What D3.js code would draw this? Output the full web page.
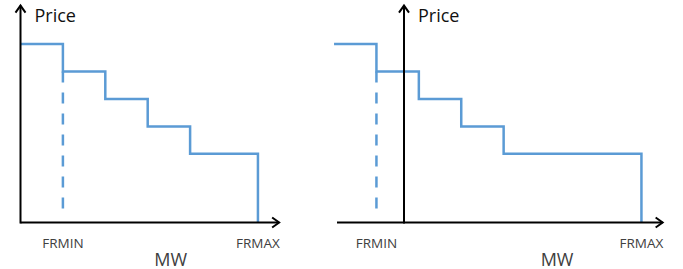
<!DOCTYPE html>
<html>
<head>
<meta charset="utf-8">
<script src="https://cdn.jsdelivr.net/npm/d3@7"></script>
<style>
  body { margin: 0; background: #fff; }
  text { font-family: "Open Sans", "Liberation Sans", sans-serif; }
  .step { fill: none; stroke: #5b9bd5; stroke-width: 2.5; }
  .frmin { stroke: #5b9bd5; stroke-width: 2.5; stroke-dasharray: 11 10; }
  .axis { stroke: #000; stroke-width: 2; fill: none; }
</style>
</head>
<body>
<svg id="chart" width="683" height="269"></svg>
<script>
// offer curve: MW breakpoints and price of each block
var leftMW   = [0, 10, 20, 30, 40, 56];
var rightMW  = [-16.5, -6.5, 3.5, 13.5, 23.5, 56];
var prices   = [65, 55, 45, 35, 25];
var leftFrmin = 10, rightFrmin = -6.5, frmax = 56;
var xLabels = ["FRMIN", "FRMAX"];

var svg = d3.select("#chart");

var y = d3.scaleLinear().domain([0, 65]).range([222.5, 44]);
var yTop = 79;       // top of price arrow
var xEnd = 61;       // end of MW arrow

function panel(mw, frmin, x0, xAxisStart, mwLabelX) {
  var x = d3.scaleLinear().domain([0, 1]).range([x0, x0 + 4.24]);
  var g = svg.append("g");

  // step line
  var pts = [];
  prices.forEach(function(p, i) {
    pts.push([mw[i], p]);
    pts.push([mw[i + 1], p]);
  });
  pts.push([mw[mw.length - 1], 0]);
  var line = d3.line()
    .x(function(d) { return x(d[0]); })
    .y(function(d) { return y(d[1]); });
  g.append("path").attr("class", "step").attr("d", line(pts));

  // dashed FRMIN drop line
  g.append("line").attr("class", "frmin")
    .attr("x1", x(frmin)).attr("x2", x(frmin))
    .attr("y1", y(prices[1])).attr("y2", y(2.8));

  // axes
  g.append("line").attr("class", "axis")
    .attr("x1", x(0)).attr("x2", x(0))
    .attr("y1", y(0) + 1).attr("y2", y(yTop));
  g.append("line").attr("class", "axis")
    .attr("x1", x(xAxisStart)).attr("x2", x(xEnd))
    .attr("y1", y(0)).attr("y2", y(0));
  // arrow heads
  g.append("path").attr("class", "axis")
    .attr("d", "M" + (x(0) - 5) + "," + (y(yTop) + 7) + "L" + x(0) + "," + y(yTop) + "L" + (x(0) + 5) + "," + (y(yTop) + 7));
  g.append("path").attr("class", "axis")
    .attr("d", "M" + (x(xEnd) - 7) + "," + (y(0) - 5) + "L" + x(xEnd) + "," + y(0) + "L" + (x(xEnd) - 7) + "," + (y(0) + 5));

  // labels
  g.append("text").attr("x", x(0) + 14).attr("y", 22)
    .attr("font-size", 18).attr("fill", "#111").text("Price");
  [frmin, frmax].forEach(function(v, i) {
    g.append("text").attr("x", x(v)).attr("y", 248)
      .attr("text-anchor", "middle").attr("font-size", 13.5)
      .attr("fill", "#404040").text(xLabels[i]);
  });
  g.append("text").attr("x", x(mwLabelX)).attr("y", 265.5)
    .attr("text-anchor", "middle").attr("font-size", 18)
    .attr("fill", "#404040").text("MW");
}

panel(leftMW, leftFrmin, 20.5, 0, 35.4);
panel(rightMW, rightFrmin, 404, -15.8, 36.1);
</script>
</body>
</html>
